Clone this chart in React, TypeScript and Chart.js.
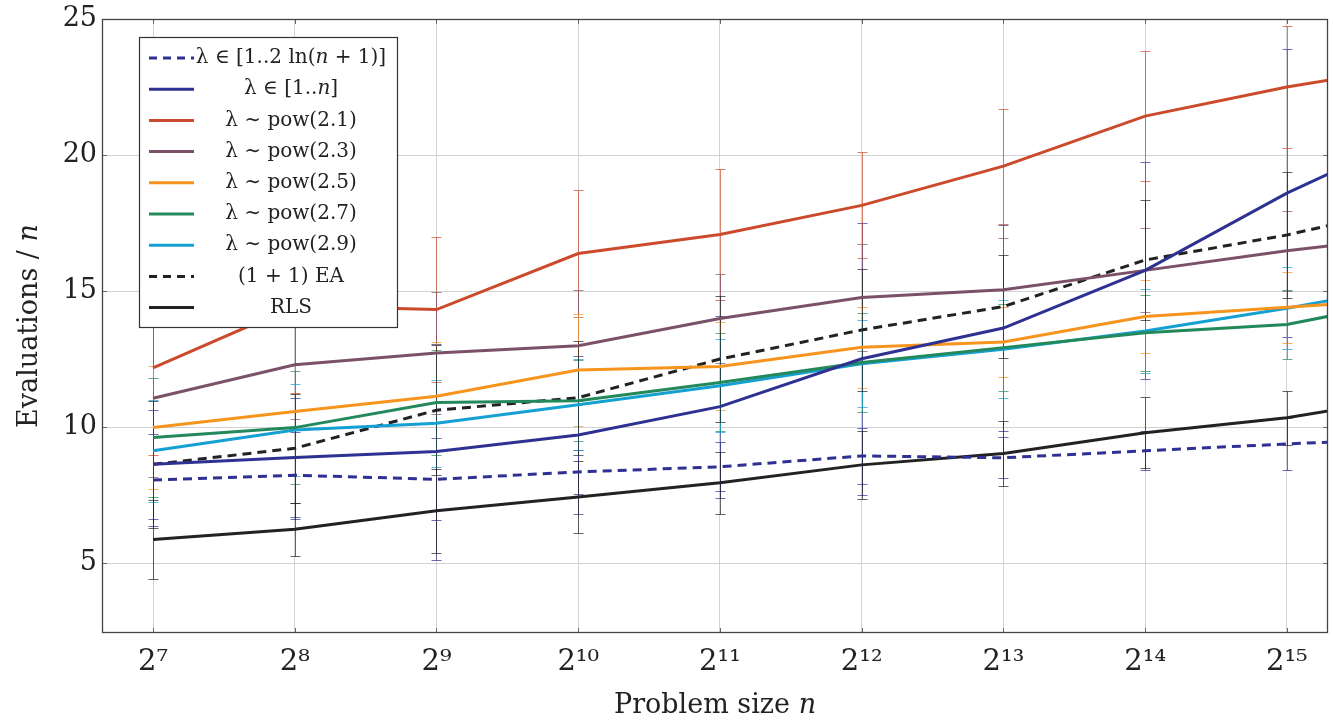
import React, { useEffect, useRef } from "react";
import { Chart, registerables } from "chart.js";

Chart.register(...registerables);

// x values are log2(n); the last point (2^16) lies beyond the visible range
const exponents = [7, 8, 9, 10, 11, 12, 13, 14, 15, 16];
const xTickValues = [7, 8, 9, 10, 11, 12, 13, 14, 15];
const xTickLabels = ["2⁷", "2⁸", "2⁹", "2¹⁰", "2¹¹", "2¹²", "2¹³", "2¹⁴", "2¹⁵"];
const yTickValues = [5, 10, 15, 20, 25];

// mean evaluations / n
const lnLambdaMean = [8.05, 8.23, 8.08, 8.35, 8.54, 8.94, 8.87, 9.13, 9.38, 9.6];
const unifLambdaMean = [8.63, 8.88, 9.1, 9.71, 10.75, 12.51, 13.64, 15.76, 18.6, 21.0];
const pow21Mean = [12.18, 14.45, 14.32, 16.38, 17.08, 18.15, 19.59, 21.43, 22.5, 23.36];
const pow23Mean = [11.06, 12.29, 12.72, 12.99, 13.99, 14.76, 15.05, 15.76, 16.48, 17.1];
const pow25Mean = [9.98, 10.57, 11.13, 12.1, 12.23, 12.93, 13.13, 14.06, 14.4, 14.75];
const pow27Mean = [9.62, 9.98, 10.9, 10.97, 11.64, 12.37, 12.92, 13.47, 13.77, 14.8];
const pow29Mean = [9.13, 9.89, 10.14, 10.82, 11.52, 12.33, 12.86, 13.53, 14.37, 15.3];
const eaMean = [8.63, 9.22, 10.62, 11.08, 12.5, 13.57, 14.43, 16.14, 17.06, 18.25];
const rlsMean = [5.87, 6.24, 6.92, 7.43, 7.95, 8.61, 9.03, 9.79, 10.34, 11.2];

// standard deviations (error bars) for 2^7 .. 2^15
const lnLambdaSd = [1.7, 1.6, 1.5, 0.8, 0.9, 1.03, 0.75, 0.72, 0.94];
const unifLambdaSd = [2.0, 2.17, 3.97, 2.92, 3.35, 5.0, 3.8, 4.0, 5.3];
const pow21Sd = [3.2, 3.2, 2.65, 2.32, 2.4, 1.95, 2.12, 2.38, 2.23];
const pow23Sd = [2.9, 2.0, 2.24, 2.03, 1.64, 1.97, 1.9, 1.54, 1.47];
const pow25Sd = [2.25, 1.7, 2.0, 2.07, 1.62, 1.49, 1.3, 1.35, 1.3];
const pow27Sd = [2.2, 2.07, 1.94, 1.48, 1.8, 1.83, 1.6, 1.4, 1.25];
const pow29Sd = [1.87, 1.68, 1.6, 1.67, 1.7, 1.6, 1.8, 1.55, 1.5];
const eaSd = [2.33, 2.0, 2.4, 2.1, 2.33, 2.23, 1.9, 2.22, 2.3];
const rlsSd = [1.45, 0.97, 1.54, 1.31, 1.13, 1.25, 1.2, 1.3, 1.0];

type Seg = { t: string; it?: boolean };
const legendLabels: Seg[][] = [
  [{ t: "λ ∈ [1..2 ln(" }, { t: "n", it: true }, { t: " + 1)]" }],
  [{ t: "λ ∈ [1.." }, { t: "n", it: true }, { t: "]" }],
  [{ t: "λ ∼ pow(2.1)" }],
  [{ t: "λ ∼ pow(2.3)" }],
  [{ t: "λ ∼ pow(2.5)" }],
  [{ t: "λ ∼ pow(2.7)" }],
  [{ t: "λ ∼ pow(2.9)" }],
  [{ t: "(1 + 1) EA" }],
  [{ t: "RLS" }],
];

const seriesMeans = [lnLambdaMean, unifLambdaMean, pow21Mean, pow23Mean, pow25Mean, pow27Mean, pow29Mean, eaMean, rlsMean];
const seriesSds = [lnLambdaSd, unifLambdaSd, pow21Sd, pow23Sd, pow25Sd, pow27Sd, pow29Sd, eaSd, rlsSd];
const seriesColors = ["#2e3192", "#2e3192", "#cc4a2c", "#7b5169", "#f7941d", "#23895a", "#14a0d2", "#222222", "#222222"];
const seriesDashed = [true, false, false, false, false, false, false, true, false];

const FONT = '"DejaVu Serif", serif';

function hexToRgba(hex: string, a: number) {
  const n = parseInt(hex.slice(1), 16);
  return `rgba(${(n >> 16) & 255},${(n >> 8) & 255},${n & 255},${a})`;
}

function drawRich(ctx: CanvasRenderingContext2D, segs: Seg[], cx: number, cy: number, size: number) {
  const fontFor = (s: Seg) => `${s.it ? "italic " : ""}${size}px ${FONT}`;
  let w = 0;
  for (const s of segs) {
    ctx.font = fontFor(s);
    w += ctx.measureText(s.t).width;
  }
  let x = cx - w / 2;
  for (const s of segs) {
    ctx.font = fontFor(s);
    ctx.fillText(s.t, x, cy);
    x += ctx.measureText(s.t).width;
  }
}

const frameAndErrorBars = {
  id: "frameAndErrorBars",
  beforeDatasetsDraw(chart: any) {
    const { ctx, chartArea, scales } = chart;
    const xs = scales.x;
    const ys = scales.y;
    ctx.save();
    ctx.beginPath();
    ctx.rect(chartArea.left, chartArea.top, chartArea.right - chartArea.left, chartArea.bottom - chartArea.top);
    ctx.clip();
    ctx.lineWidth = 1;
    seriesMeans.forEach((mean, si) => {
      const sd = seriesSds[si];
      ctx.strokeStyle = hexToRgba(seriesColors[si], 0.7);
      sd.forEach((d, j) => {
        const x = Math.round(xs.getPixelForValue(exponents[j])) + 0.5;
        const yHi = Math.round(ys.getPixelForValue(mean[j] + d)) + 0.5;
        const yLo = Math.round(ys.getPixelForValue(mean[j] - d)) + 0.5;
        ctx.beginPath();
        ctx.moveTo(x, yHi);
        ctx.lineTo(x, yLo);
        ctx.moveTo(x - 5, yHi);
        ctx.lineTo(x + 5, yHi);
        ctx.moveTo(x - 5, yLo);
        ctx.lineTo(x + 5, yLo);
        ctx.stroke();
      });
    });
    ctx.restore();
  },
  afterDraw(chart: any) {
    const { ctx, chartArea, scales } = chart;
    const { left, right, top, bottom } = chartArea;
    ctx.save();
    // inner tick marks
    ctx.strokeStyle = "#666";
    ctx.lineWidth = 1;
    ctx.beginPath();
    xTickValues.forEach((v) => {
      const x = Math.round(scales.x.getPixelForValue(v)) + 0.5;
      ctx.moveTo(x, bottom);
      ctx.lineTo(x, bottom - 5);
      ctx.moveTo(x, top);
      ctx.lineTo(x, top + 5);
    });
    yTickValues.forEach((v) => {
      const y = Math.round(scales.y.getPixelForValue(v)) + 0.5;
      ctx.moveTo(left, y);
      ctx.lineTo(left + 5, y);
      ctx.moveTo(right, y);
      ctx.lineTo(right - 5, y);
    });
    ctx.stroke();
    // frame
    ctx.strokeStyle = "#444";
    ctx.lineWidth = 1.3;
    ctx.strokeRect(left + 0.5, top + 0.5, right - left - 1, bottom - top - 1);

    // legend
    const lx = 139.5, ly = 37.5, lw = 258, lh = 290;
    ctx.fillStyle = "#ffffff";
    ctx.fillRect(lx, ly, lw, lh);
    ctx.strokeStyle = "#333";
    ctx.lineWidth = 1.2;
    ctx.strokeRect(lx, ly, lw, lh);
    legendLabels.forEach((segs, i) => {
      const cy = 58 + i * 31.2;
      ctx.strokeStyle = seriesColors[i];
      ctx.lineWidth = 3;
      ctx.setLineDash(seriesDashed[i] ? [8, 6] : []);
      ctx.beginPath();
      ctx.moveTo(149, cy);
      ctx.lineTo(194, cy);
      ctx.stroke();
      ctx.setLineDash([]);
      ctx.fillStyle = "#222";
      ctx.textBaseline = "middle";
      ctx.textAlign = "left";
      drawRich(ctx, segs, 291, cy, 20);
    });

    // axis titles
    ctx.fillStyle = "#222";
    ctx.textBaseline = "alphabetic";
    drawRich(ctx, [{ t: "Problem size " }, { t: "n", it: true }], (left + right) / 2, 713, 27);
    ctx.translate(37, (top + bottom) / 2);
    ctx.rotate(-Math.PI / 2);
    drawRich(ctx, [{ t: "Evaluations / " }, { t: "n", it: true }], 0, 0, 27);
    ctx.restore();
  },
};

export default function App() {
  const ref = useRef<HTMLCanvasElement | null>(null);
  useEffect(() => {
    if (!ref.current) return;
    const datasets = seriesMeans.map((mean, si) => ({
      label: legendLabels[si].map((s) => s.t).join(""),
      data: mean.map((v, j) => ({ x: exponents[j], y: v })),
      borderColor: seriesColors[si],
      backgroundColor: seriesColors[si],
      borderWidth: 3,
      borderDash: seriesDashed[si] ? [9, 6] : [],
      pointRadius: 0,
      tension: 0,
      fill: false,
      clip: 0,
    }));
    const chart = new Chart(ref.current, {
      type: "line",
      data: { datasets },
      options: {
        animation: false,
        responsive: false,
        devicePixelRatio: 1,
        parsing: true,
        layout: { padding: { left: 0, right: 5, top: 19, bottom: 0 } },
        plugins: { legend: { display: false }, tooltip: { enabled: false } },
        scales: {
          x: {
            type: "linear",
            min: 6.64,
            max: 15.29,
            afterBuildTicks: (s: any) => {
              s.ticks = xTickValues.map((v) => ({ value: v }));
            },
            afterFit: (s: any) => {
              s.height = 89;
              s.paddingLeft = 0;
              s.paddingRight = 0;
            },
            ticks: {
              autoSkip: false,
              maxRotation: 0,
              padding: 12,
              color: "#222",
              font: { family: FONT, size: 29 },
              callback: (v: any) => xTickLabels[Math.round(Number(v)) - 7] ?? "",
            },
            grid: { color: "#d2d2d2", lineWidth: 1, drawTicks: false },
            border: { display: false },
          },
          y: {
            type: "linear",
            min: 2.43,
            max: 25,
            afterBuildTicks: (s: any) => {
              s.ticks = yTickValues.map((v) => ({ value: v }));
            },
            afterFit: (s: any) => {
              s.width = 102;
              s.paddingTop = 0;
              s.paddingBottom = 0;
            },
            ticks: {
              padding: 5,
              color: "#222",
              font: { family: FONT, size: 27 },
            },
            grid: { color: "#d2d2d2", lineWidth: 1, drawTicks: false },
            border: { display: false },
          },
        },
      } as any,
      plugins: [frameAndErrorBars],
    });
    return () => chart.destroy();
  }, []);
  return (
    <div style={{ position: "fixed", left: 0, top: 0, width: 1333, height: 722, background: "#fff" }}>
      <canvas ref={ref} width={1333} height={722} style={{ display: "block" }} />
    </div>
  );
}
